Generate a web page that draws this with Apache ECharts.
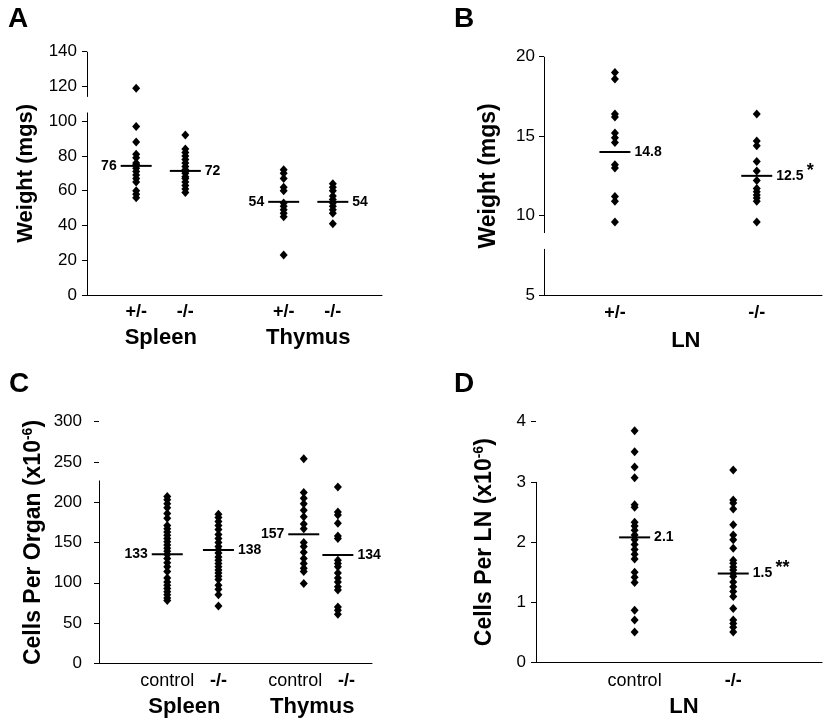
<!DOCTYPE html>
<html><head><meta charset="utf-8">
<script src="https://cdn.jsdelivr.net/npm/echarts@6/dist/echarts.min.js"></script>
<style>html,body{margin:0;padding:0;background:#fff}#c{width:825px;height:720px}</style>
</head><body><div id="c"></div>
<script>
// ---------- Panel A : organ weight (mgs) ----------
const catsA = ['+/-', '-/-', '+/-', '-/-'];
const groupsA = ['Spleen', 'Thymus'];
const spleenHetA = [119, 97, 88, 81, 79, 76, 75, 73, 71, 69, 67, 65, 60, 58, 56];
const spleenKoA = [92, 84, 82, 80, 78, 76, 74, 72, 71, 70, 68, 67, 65, 63, 61, 59];
const thymusHetA = [72, 70, 67, 62, 60, 53, 51, 49, 47, 45, 23];
const thymusKoA = [64, 62, 60, 57, 55, 53, 51, 49, 47, 41];
const meanLineA = [74.3, 71.4, 53.6, 53.6];
const meanTextA = ['76', '72', '54', '54'];
const ticksA = [0, 20, 40, 60, 80, 100, 120, 140];

// ---------- Panel B : LN weight (mgs) ----------
const catsB = ['+/-', '-/-'];
const groupsB = ['LN'];
const lnHetB = [19.0, 18.6, 16.4, 16.2, 15.2, 14.9, 14.6, 13.2, 13.0, 11.2, 10.9, 9.6];
const lnKoB = [16.4, 14.7, 14.4, 13.4, 12.8, 12.2, 11.7, 11.5, 11.3, 11.1, 10.9, 9.6];
const meanLineB = [14.0, 12.5];
const meanTextB = ['14.8', '12.5'];
const sigB = ['', '*'];
const ticksB = [5, 10, 15, 20];

// ---------- Panel C : cells per organ (x10^-6) ----------
const catsC = ['control', '-/-', 'control', '-/-'];
const groupsC = ['Spleen', 'Thymus'];
const spleenCtrlC = [207, 203, 198, 193, 186, 180, 171, 167, 163, 159, 155, 151, 147, 143, 139, 135, 130, 125, 120, 114, 106, 101, 97, 93, 89, 85, 81, 78];
const spleenKoC = [185, 181, 176, 171, 166, 160, 155, 150, 145, 141, 137, 132, 128, 124, 120, 116, 112, 108, 104, 97, 92, 85, 71];
const thymusCtrlC = [254, 212, 205, 198, 190, 182, 173, 167, 150, 145, 138, 130, 124, 118, 114, 99];
const thymusKoC = [219, 188, 184, 174, 158, 155, 128, 124, 120, 112, 106, 101, 95, 91, 70, 66, 61];
const meanLineC = [135.4, 140.7, 160.2, 134.5];
const meanTextC = ['133', '138', '157', '134'];
const ticksC = [0, 50, 100, 150, 200, 250, 300];

// ---------- Panel D : cells per LN (x10^-6) ----------
const catsD = ['control', '-/-'];
const groupsD = ['LN'];
const lnCtrlD = [3.85, 3.5, 3.25, 3.07, 2.62, 2.58, 2.33, 2.27, 2.2, 2.12, 2.04, 1.96, 1.88, 1.8, 1.72, 1.5, 1.42, 1.33, 0.87, 0.71, 0.51];
const lnKoD = [3.2, 2.7, 2.65, 2.55, 2.29, 2.12, 2.04, 1.9, 1.7, 1.65, 1.59, 1.54, 1.48, 1.43, 1.34, 1.26, 1.18, 1.1, 0.9, 0.71, 0.65, 0.59, 0.51];
const meanLineD = [2.08, 1.48];
const meanTextD = ['2.1', '1.5'];
const sigD = ['', '**'];
const ticksD = [0, 1, 2, 3, 4];

// ---------- layout (positions on each panel's x scale, axis breaks) ----------
const FONT = "'Liberation Sans', Arial, Helvetica, sans-serif";
const panels = [
  { grid: {left: 87, top: 51.7, width: 295, height: 243.3}, xRange: [0, 6], xStep: 1, groupStep: 0.5,
    pos: [1, 2, 4, 5], labelPos: [1, 2, 4, 5], groupPos: [1.5, 4.5],
    cats: catsA, groups: groupsA, data: [spleenHetA, spleenKoA, thymusHetA, thymusKoA],
    meanLine: meanLineA, meanText: meanTextA, sig: ['', '', '', ''], meanSide: ['left', 'right', 'left', 'right'],
    ticks: ticksA, yName: 'Weight (mgs)', yNameSize: 22, yNameGap: 50, yLabelMargin: 10,
    catBold: [true, true, true, true], catMargin: 8, groupMargin: 32, yLine: [[0, 105], [114, 140]] },
  { grid: {left: 544, top: 56.7, width: 279, height: 238.3}, xRange: [0.5, 2.46], xStep: 0.5, groupStep: 0.5,
    pos: [1, 2], labelPos: [1, 2], groupPos: [1.5],
    cats: catsB, groups: groupsB, data: [lnHetB, lnKoB],
    meanLine: meanLineB, meanText: meanTextB, sig: sigB, meanSide: ['right', 'right'],
    ticks: ticksB, yName: 'Weight (mgs)', yNameSize: 23, yNameGap: 44, yLabelMargin: 9,
    catBold: [true, true], catMargin: 9, groupMargin: 35, yLine: [[5, 7.9], [8.9, 20]] },
  { grid: {left: 99, top: 421.7, width: 273, height: 241.6}, xRange: [0, 32], xStep: 1, groupStep: 1,
    pos: [8, 14, 24, 28], labelPos: [8, 14, 23, 29], groupPos: [10, 25],
    cats: catsC, groups: groupsC, data: [spleenCtrlC, spleenKoC, thymusCtrlC, thymusKoC],
    meanLine: meanLineC, meanText: meanTextC, sig: ['', '', '', ''], meanSide: ['left', 'right', 'left', 'right'],
    ticks: ticksC, yName: 'Cells Per Organ (x10', yNameSize: 23, yNameGap: 52, yLabelMargin: 17,
    catBold: [false, true, false, true], catMargin: 9, groupMargin: 33, yLine: [[0, 227]] },
  { grid: {left: 536, top: 421.7, width: 289, height: 241}, xRange: [0, 2.9], xStep: 1, groupStep: 0.5,
    pos: [1, 2], labelPos: [1, 2], groupPos: [1.5],
    cats: catsD, groups: groupsD, data: [lnCtrlD, lnKoD],
    meanLine: meanLineD, meanText: meanTextD, sig: sigD, meanSide: ['right', 'right'],
    ticks: ticksD, yName: 'Cells Per LN (x10', yNameSize: 23, yNameGap: 38, yLabelMargin: 10,
    catBold: [false, true], catMargin: 9, groupMargin: 33, yLine: [[0, 3]] }
];

const near = (a, b) => Math.abs(a - b) < 1e-6;
const grids = [], xAxes = [], yAxes = [], series = [];
const txt = (size, bold) => ({fontSize: size, fontWeight: bold ? 'bold' : 'normal', color: '#000', fontFamily: FONT});

panels.forEach((p, i) => {
  grids.push(Object.assign({containLabel: false}, p.grid));
  // category-label axis
  xAxes.push({
    type: 'value', gridIndex: i, position: 'bottom', min: p.xRange[0], max: p.xRange[1], interval: p.xStep,
    axisLine: {show: true, lineStyle: {color: '#000', width: 1}},
    axisTick: {show: false}, splitLine: {show: false},
    axisLabel: {
      show: true, margin: p.catMargin, color: '#000', fontFamily: FONT, fontSize: 18,
      showMinLabel: true, showMaxLabel: true, hideOverlap: false,
      rich: {b: txt(18, true), n: txt(18, false)},
      formatter: v => {
        const k = p.labelPos.findIndex(q => near(q, v));
        return k >= 0 ? '{' + (p.catBold[k] ? 'b' : 'n') + '|' + p.cats[k] + '}' : '';
      }
    }
  });
  // group-label axis
  xAxes.push({
    type: 'value', gridIndex: i, position: 'bottom', offset: 0,
    min: p.xRange[0], max: p.xRange[1], interval: p.groupStep,
    axisLine: {show: false}, axisTick: {show: false}, splitLine: {show: false},
    axisLabel: {
      show: true, margin: p.groupMargin, color: '#000', fontFamily: FONT,
      fontSize: 22, fontWeight: 'bold', showMinLabel: true, showMaxLabel: true, hideOverlap: false,
      formatter: v => { const k = p.groupPos.findIndex(q => near(q, v)); return k >= 0 ? p.groups[k] : ''; }
    }
  });
  const hasSup = p.yName.indexOf('x10') >= 0;
  yAxes.push({
    type: 'value', gridIndex: i, position: 'left', min: p.ticks[0], max: p.ticks[p.ticks.length - 1],
    interval: p.ticks[1] - p.ticks[0],
    axisLine: {show: false},
    axisTick: {show: true, length: 5, lineStyle: {color: '#000', width: 1}},
    splitLine: {show: false},
    axisLabel: {margin: p.yLabelMargin, color: '#000', fontSize: 17, fontFamily: FONT},
    name: hasSup ? '{t|' + p.yName + '}{s|-6}{t|)}' : p.yName,
    nameLocation: 'middle', nameGap: p.yNameGap,
    nameTextStyle: Object.assign(txt(p.yNameSize, true), {
      rich: {
        t: txt(p.yNameSize, true),
        s: Object.assign(txt(14, true), {padding: [0, 0, 12, 0]})
      }
    })
  });
  const xi = i * 2, yi = i;
  // y axis line drawn as segments (axis has breaks)
  series.push({
    type: 'lines', coordinateSystem: 'cartesian2d', xAxisIndex: xi, yAxisIndex: yi, silent: true,
    lineStyle: {color: '#000', width: 1, opacity: 1},
    data: p.yLine.map(s => ({coords: [[p.xRange[0], s[0]], [p.xRange[0], s[1]]]}))
  });
  // individual animals
  p.data.forEach((vals, g) => {
    series.push({
      type: 'scatter', xAxisIndex: xi, yAxisIndex: yi, symbol: 'diamond', symbolSize: [8, 9],
      itemStyle: {color: '#000', opacity: 1}, silent: true,
      data: vals.map(v => [p.pos[g], v])
    });
  });
  // mean bars with labels
  series.push({
    type: 'scatter', xAxisIndex: xi, yAxisIndex: yi, symbol: 'rect', symbolSize: [31, 2],
    itemStyle: {color: '#000', opacity: 1}, silent: true, z: 3,
    data: p.meanLine.map((m, g) => ({
      value: [p.pos[g], m],
      label: {
        show: true, position: p.meanSide[g], distance: 4,
        formatter: p.sig[g] ? '{v|' + p.meanText[g] + '} {s|' + p.sig[g] + '}' : '{v|' + p.meanText[g] + '}',
        rich: {
          v: txt(14, true),
          s: Object.assign(txt(18, true), {padding: [0, 0, 10, 0]})
        }
      }
    }))
  });
});

const chart = echarts.init(document.getElementById('c'));
chart.setOption({
  backgroundColor: '#fff',
  animation: false,
  title: [
    {text: 'A', left: 3, top: 0},
    {text: 'B', left: 449, top: 0},
    {text: 'C', left: 4, top: 365},
    {text: 'D', left: 449, top: 365}
  ].map(t => Object.assign(t, {textStyle: txt(28, true)})),
  grid: grids, xAxis: xAxes, yAxis: yAxes, series: series
});
</script></body></html>
